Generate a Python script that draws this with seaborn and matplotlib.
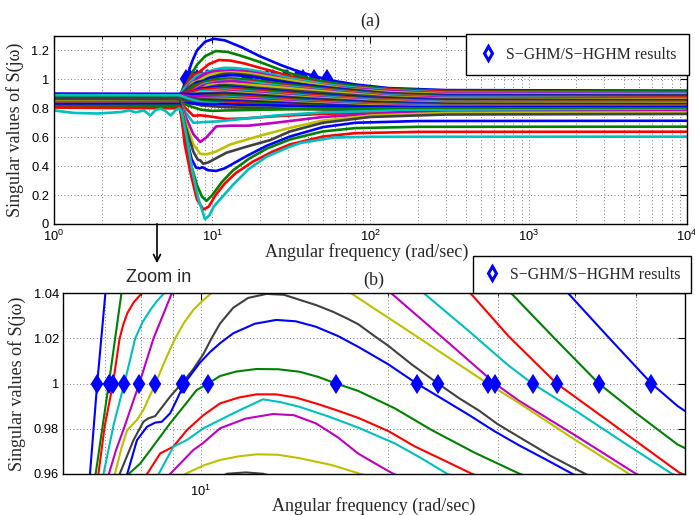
import matplotlib
matplotlib.use("Agg")
import matplotlib.pyplot as plt
from matplotlib.lines import Line2D
from matplotlib.patches import FancyArrowPatch
from matplotlib.ticker import LogLocator, NullFormatter, FormatStrFormatter, FixedLocator
import pandas as pd
import seaborn as sns

sns.set_style("white")
plt.rcParams["font.family"] = ["Liberation Sans", "DejaVu Sans"]
plt.rcParams["mathtext.default"] = "regular"
SERIF = ["Liberation Serif", "DejaVu Serif"]

# MATLAB default line colour order
line_colors = ["#0000FF", "#008000", "#FF0000", "#00BFBF", "#BF00BF", "#BFBF00", "#404040"]

# ---- singular value curves: (frequency rad/s, sigma) ordered by peak height ----
c01 = [(1, 0.875), (6.2, 0.878), (6.45, 0.92), (6.63, 0.96), (6.81, 1.0), (7.02, 1.04), (7.5, 1.13),
       (8.0, 1.2), (9.0, 1.26), (10.2, 1.281), (12, 1.27), (15.5, 1.22), (20, 1.16), (27, 1.10),
       (33, 1.065), (38.9, 1.04), (45, 1.021), (53, 1.0), (58.4, 0.99), (80, 0.965), (130, 0.94),
       (300, 0.926), (10000, 0.922)]
c02 = [(1, 0.89), (6.2, 0.885), (6.5, 0.93), (6.77, 0.96), (7.11, 1.0), (7.45, 1.04), (8, 1.1),
       (9, 1.16), (10.5, 1.196), (12.5, 1.19), (15, 1.165), (20, 1.12), (25, 1.08), (31.5, 1.04),
       (37, 1.02), (43.6, 1.0), (50, 0.987), (58.4, 0.973), (80, 0.955), (130, 0.935), (300, 0.92),
       (10000, 0.916)]
c03 = [(1, 0.86), (6.2, 0.862), (6.5, 0.91), (6.84, 0.96), (7.0, 0.981), (7.22, 1.0), (7.4, 1.02),
       (7.5, 1.026), (7.61, 1.031), (7.8, 1.036), (8.04, 1.04), (8.7, 1.07), (9.5, 1.105), (11, 1.134),
       (13, 1.13), (16, 1.11), (20, 1.08), (24, 1.057), (27.1, 1.04), (31.2, 1.021), (37.3, 1.0),
       (47, 0.98), (58.75, 0.9606), (80, 0.945), (130, 0.93), (300, 0.914), (10000, 0.91)]
c04 = [(1, 0.90), (6.2, 0.895), (6.6, 0.93), (6.97, 0.96), (7.24, 0.982), (7.53, 1.0), (7.84, 1.02),
       (8.05, 1.027), (8.29, 1.0325), (8.5, 1.0365), (8.73, 1.04), (9.5, 1.055), (10.5, 1.07), (12, 1.08),
       (14, 1.078), (17, 1.068), (20, 1.055), (22.8, 1.04), (27, 1.023), (31.2, 1.008), (34.1, 1.0),
       (40, 0.988), (48, 0.9736), (57, 0.9603), (80, 0.943), (130, 0.925), (300, 0.908), (10000, 0.905)]
c05 = [(1, 0.88), (6.2, 0.878), (6.7, 0.915), (7.11, 0.96), (7.3, 0.9705), (7.5, 0.9794), (7.96, 1.0),
       (8.17, 1.01), (8.39, 1.02), (8.68, 1.03), (8.98, 1.04), (10, 1.053), (11.5, 1.06), (13.5, 1.062),
       (16, 1.056), (20.2, 1.04), (25, 1.018), (29.7, 1.0), (32.4, 0.9925), (40, 0.977), (50.1, 0.96),
       (70, 0.94), (130, 0.92), (300, 0.903), (10000, 0.9)]
c06 = [(1, 0.85), (6.2, 0.852), (6.8, 0.9), (7.27, 0.96), (7.45, 0.9715), (7.61, 0.9794), (7.89, 0.9839),
       (8.08, 0.9883), (8.45, 1.0), (8.75, 1.01), (9.09, 1.02), (9.4, 1.027), (9.72, 1.0325),
       (10.05, 1.0365), (10.4, 1.04), (12, 1.047), (13.5, 1.048), (15.5, 1.045), (17.4, 1.04),
       (22, 1.0216), (28.9, 1.0), (32.4, 0.9915), (40, 0.975), (48.6, 0.9603), (70, 0.935),
       (130, 0.912), (300, 0.898), (10000, 0.895)]
c07 = [(1, 0.895), (6.2, 0.89), (6.9, 0.93), (7.4, 0.96), (7.79, 0.975), (8.08, 0.9831), (8.23, 0.9846),
       (8.44, 0.9856), (8.92, 0.9942), (9.31, 1.0), (9.7, 1.006), (10.09, 1.013), (10.4, 1.02),
       (10.73, 1.0265), (11.27, 1.0335), (11.9, 1.0378), (12.74, 1.0396), (13.6, 1.0392), (14.4, 1.037),
       (15.3, 1.0347), (16.3, 1.0317), (17.1, 1.029), (17.9, 1.0262), (19, 1.021), (20, 1.0167),
       (21.8, 1.0085), (24.04, 1.0), (26, 0.9935), (28, 0.988), (30, 0.982), (32.4, 0.9765),
       (36.5, 0.968), (41.3, 0.9603), (60, 0.94), (130, 0.905), (300, 0.893), (10000, 0.89)]
c08 = [(1, 0.865), (6.2, 0.868), (7.0, 0.92), (7.61, 0.96), (7.89, 0.975), (8.19, 0.9809), (8.44, 0.9827),
       (8.65, 0.9831), (8.92, 0.9868), (9.15, 0.993), (9.4, 1.0), (9.96, 1.0092), (10.35, 1.014),
       (10.73, 1.0178), (11.27, 1.0222), (12.2, 1.0264), (13.21, 1.0281), (14.2, 1.0275), (15.3, 1.0251),
       (16.6, 1.021), (17.9, 1.0162), (20, 1.0085), (22.22, 1.0), (24.5, 0.993), (27, 0.986),
       (29.6, 0.979), (32.4, 0.9728), (35.8, 0.9665), (39.4, 0.9603), (60, 0.935), (130, 0.9),
       (300, 0.888), (10000, 0.885)]
c09 = [(1, 0.885), (6.2, 0.882), (7.0, 0.92), (7.65, 0.96), (7.99, 0.9647), (8.29, 0.9706), (8.6, 0.9765),
       (8.92, 0.9824), (9.37, 0.9897), (9.84, 0.9971), (10.27, 1.0), (10.73, 1.0033), (11.4, 1.0053),
       (12.28, 1.0064), (13.3, 1.0063), (14.4, 1.0052), (15.4, 1.003), (16.49, 1.0), (17.9, 0.9967),
       (20.5, 0.989), (23.5, 0.9794), (27.5, 0.9695), (32.4, 0.9603), (60, 0.93), (130, 0.897),
       (300, 0.884), (10000, 0.88)]
c10 = [(1, 0.875), (6.2, 0.875), (7.0, 0.91), (8.19, 0.96), (8.6, 0.9691), (9.03, 0.9721), (9.49, 0.9794),
       (10.09, 0.986), (10.73, 0.9912), (11.5, 0.9938), (12.28, 0.9952), (13.21, 0.9952), (14.2, 0.9938),
       (15.3, 0.9912), (16.6, 0.988), (17.9, 0.9848), (20, 0.979), (22.1, 0.9721), (24.6, 0.966),
       (27.3, 0.96), (60, 0.925), (130, 0.893), (300, 0.88), (10000, 0.875)]
c11 = [(1, 0.855), (6.2, 0.858), (7.2, 0.91), (8.55, 0.96), (9.03, 0.9721), (9.49, 0.975), (10.09, 0.9802),
       (10.73, 0.9839), (11.6, 0.9885), (12.58, 0.993), (13.4, 0.9918), (14.4, 0.9897), (16, 0.9855),
       (17.9, 0.9805), (20.5, 0.9735), (22.6, 0.967), (24.9, 0.96), (60, 0.92), (130, 0.89),
       (300, 0.876), (10000, 0.87)]
c12 = [(1, 0.9), (6.2, 0.897), (7.5, 0.92), (8.92, 0.96), (9.72, 0.9706), (10.07, 0.9736), (10.73, 0.9802),
       (11.8, 0.9845), (13.05, 0.9865), (14.1, 0.986), (15.3, 0.9824), (16.6, 0.9762), (17.9, 0.969),
       (19.1, 0.9645), (20.4, 0.96), (60, 0.915), (130, 0.885), (300, 0.872), (10000, 0.865)]
c13 = [(1, 0.87), (6.2, 0.87), (7.5, 0.9), (9.43, 0.96), (10.1, 0.9638), (10.73, 0.9662), (11.5, 0.9678),
       (12.28, 0.9687), (13.3, 0.9685), (14.4, 0.967), (16.2, 0.964), (18.07, 0.96), (20, 0.957),
       (60, 0.91), (130, 0.88), (300, 0.866), (10000, 0.86)]
c14 = [(1, 0.845), (6.2, 0.85), (7.5, 0.9), (9.5, 0.946), (10.5, 0.956), (11, 0.9601), (11.8, 0.9607),
       (12.6, 0.9601), (14, 0.956), (20, 0.94), (60, 0.9), (130, 0.875), (300, 0.862), (10000, 0.855)]

# middle of the family, sampled on a common frequency grid
bundle_w = [1, 6.2, 7, 8.5, 12, 20, 40, 100, 300, 10000]
c15 = [0.880, 0.880, 0.905, 0.938, 0.952, 0.932, 0.902, 0.872, 0.855, 0.852]
c16 = [0.862, 0.862, 0.891, 0.928, 0.945, 0.926, 0.897, 0.867, 0.851, 0.848]
c17 = [0.895, 0.895, 0.910, 0.929, 0.938, 0.919, 0.892, 0.864, 0.848, 0.845]
c18 = [0.872, 0.872, 0.892, 0.918, 0.930, 0.912, 0.886, 0.860, 0.845, 0.842]
c19 = [0.850, 0.850, 0.875, 0.908, 0.922, 0.905, 0.880, 0.855, 0.841, 0.838]
c20 = [0.888, 0.888, 0.897, 0.910, 0.915, 0.899, 0.875, 0.851, 0.837, 0.835]
c21 = [0.868, 0.868, 0.882, 0.900, 0.908, 0.892, 0.869, 0.846, 0.832, 0.830]
c22 = [0.900, 0.900, 0.900, 0.900, 0.900, 0.885, 0.863, 0.841, 0.828, 0.826]
c23 = [0.855, 0.855, 0.868, 0.885, 0.893, 0.879, 0.858, 0.836, 0.824, 0.822]
c24 = [0.878, 0.878, 0.881, 0.884, 0.886, 0.872, 0.852, 0.832, 0.820, 0.818]
c25 = [0.846, 0.846, 0.858, 0.872, 0.879, 0.866, 0.847, 0.828, 0.817, 0.815]
c26 = [0.892, 0.892, 0.885, 0.876, 0.872, 0.860, 0.842, 0.823, 0.813, 0.811]
c27 = [0.865, 0.865, 0.865, 0.865, 0.865, 0.853, 0.836, 0.819, 0.809, 0.807]
c28 = [0.883, 0.883, 0.874, 0.863, 0.858, 0.847, 0.831, 0.814, 0.805, 0.803]
c29 = [0.852, 0.852, 0.852, 0.851, 0.851, 0.841, 0.826, 0.810, 0.802, 0.800]
c30 = [0.875, 0.875, 0.864, 0.850, 0.844, 0.835, 0.821, 0.806, 0.798, 0.797]
c31 = [0.858, 0.858, 0.851, 0.841, 0.837, 0.828, 0.816, 0.803, 0.795, 0.794]
c32 = [0.890, 0.890, 0.869, 0.842, 0.830, 0.822, 0.810, 0.798, 0.791, 0.790]
c33 = [0.860, 0.860, 0.847, 0.830, 0.822, 0.815, 0.804, 0.793, 0.787, 0.786]
c34 = [0.848, 0.848, 0.836, 0.822, 0.815, 0.809, 0.799, 0.789, 0.784, 0.783]
c35 = [0.870, 0.870, 0.848, 0.820, 0.808, 0.802, 0.794, 0.786, 0.781, 0.780]

# curves with a notch near the crossover
c36 = [(1, 0.84), (6.2, 0.84), (7, 0.835), (8.5, 0.83), (12, 0.828), (20, 0.822), (40, 0.815),
       (100, 0.81), (300, 0.808), (10000, 0.808)]
c37 = [(1, 0.845), (6.2, 0.845), (7, 0.82), (8.5, 0.79), (10, 0.782), (12, 0.785), (20, 0.79),
       (40, 0.795), (100, 0.8), (10000, 0.8)]
c38 = [(1, 0.842), (6.2, 0.842), (6.8, 0.8), (7.6, 0.748), (8.4, 0.752), (9.5, 0.745), (12.3, 0.726),
       (16, 0.73), (25, 0.745), (50, 0.762), (150, 0.772), (10000, 0.775)]
c39 = [(1, 0.85), (6.2, 0.85), (6.8, 0.77), (7.6, 0.70), (9, 0.705), (11, 0.71), (15, 0.725),
       (25, 0.75), (50, 0.772), (150, 0.785), (10000, 0.788)]
c40 = [(1, 0.855), (6.2, 0.855), (6.8, 0.74), (7.6, 0.62), (8.4, 0.567), (9.2, 0.6), (10.6, 0.675),
       (13, 0.68), (17, 0.68), (25, 0.70), (50, 0.74), (150, 0.772), (10000, 0.78)]
c41 = [(1, 0.86), (6.2, 0.86), (6.8, 0.70), (7.6, 0.55), (8.4, 0.485), (9.2, 0.482), (10.5, 0.50),
       (13, 0.55), (20, 0.61), (31, 0.665), (50, 0.715), (100, 0.75), (300, 0.768), (10000, 0.772)]
c42 = [(1, 0.865), (6.2, 0.862), (6.8, 0.67), (7.6, 0.50), (8.1, 0.445), (8.4, 0.44), (8.76, 0.417),
       (9.4, 0.425), (12.3, 0.493), (16.5, 0.535), (23.2, 0.58), (31, 0.64), (50, 0.70), (100, 0.74),
       (300, 0.757), (10000, 0.761)]
c43 = [(1, 0.828), (6.2, 0.83), (6.8, 0.62), (7.4, 0.45), (7.9, 0.39), (8.3, 0.385), (8.7, 0.392),
       (9.4, 0.372), (10.6, 0.367), (12, 0.385), (16.5, 0.47), (22, 0.54), (31, 0.605), (50, 0.67),
       (80, 0.70), (200, 0.712), (10000, 0.714)]
c44 = [(1, 0.815), (6.2, 0.818), (6.7, 0.6), (7.3, 0.42), (8, 0.27), (8.6, 0.19), (9.2, 0.16), (10, 0.2),
       (11.5, 0.29), (13.5, 0.37), (17, 0.45), (22, 0.52), (31, 0.585), (50, 0.64), (80, 0.663),
       (200, 0.672), (10000, 0.673)]
c45 = [(1, 0.805), (5.8, 0.80), (6.1, 0.812), (6.3, 0.805), (6.7, 0.55), (7.3, 0.35), (8.0, 0.17),
       (8.8, 0.10), (9.5, 0.12), (10.5, 0.2), (12, 0.28), (14, 0.35), (18, 0.43), (24, 0.50), (31, 0.55),
       (50, 0.605), (80, 0.628), (200, 0.637), (10000, 0.638)]
c46 = [(1, 0.785), (1.34, 0.768), (1.88, 0.764), (2.64, 0.774), (2.98, 0.786), (3.28, 0.772), (3.7, 0.786),
       (4.06, 0.75), (4.39, 0.788), (4.73, 0.797), (5.08, 0.78), (5.47, 0.75), (5.88, 0.788), (6.2, 0.8),
       (6.4, 0.78), (6.9, 0.6), (7.5, 0.36), (8.2, 0.17), (9.0, 0.033), (9.6, 0.06), (10.2, 0.12),
       (12.3, 0.22), (13.5, 0.27), (17, 0.38), (22, 0.465), (31, 0.535), (36, 0.56), (58, 0.598),
       (100, 0.603), (10000, 0.604)]

# frequencies where sigma = 1 (S-GHM/S-HGHM)
hit_w = [6.81, 7.11, 7.22, 7.53, 7.96, 8.45, 9.31, 9.40, 10.27,
         16.49, 22.22, 24.04, 28.89, 29.72, 34.15, 37.31, 43.65, 52.99]
hit_s = [1.0, 1.0, 1.0, 1.0, 1.0, 1.0, 1.0, 1.0, 1.0,
         1.0, 1.0, 1.0, 1.0, 1.0, 1.0, 1.0, 1.0, 1.0]

legend_label = "S\u2212GHM/S\u2212HGHM results"

# ---- assemble long-form table ----
paired = [c01, c02, c03, c04, c05, c06, c07, c08, c09, c10, c11, c12, c13, c14]
bundle = [c15, c16, c17, c18, c19, c20, c21, c22, c23, c24, c25, c26, c27, c28, c29, c30,
          c31, c32, c33, c34, c35]
notched = [c36, c37, c38, c39, c40, c41, c42, c43, c44, c45, c46]

rows = []
idx = 0
for pts in paired:
    rows += [(idx, w, s) for w, s in pts]
    idx += 1
for vals in bundle:
    rows += [(idx, w, s) for w, s in zip(bundle_w, vals)]
    idx += 1
for pts in notched:
    rows += [(idx, w, s) for w, s in pts]
    idx += 1
df = pd.DataFrame(rows, columns=["curve", "w", "s"])
palette = {i: line_colors[i % 7] for i in range(idx)}

W, H = 695, 515
fig = plt.figure(figsize=(W / 100, H / 100), dpi=100)
ax1 = fig.add_axes([54 / W, 1 - 224 / H, 633 / W, 188 / H])
ax2 = fig.add_axes([63 / W, 1 - 474 / H, 622 / W, 181 / H])

grid_kw = dict(linestyle=(0, (1, 3)), color="0.3", linewidth=0.6)
marker_kw = dict(linestyle="none", marker="d", ms=8, mew=1.6, mec="#0000FF", mfc="#0000FF")


def style_axes(ax):
    for sp in ax.spines.values():
        sp.set_color("black")
        sp.set_linewidth(1.0)
    ax.tick_params(which="both", direction="in", top=True, right=True, colors="black",
                   labelsize=9.3)
    ax.tick_params(which="major", length=5, width=0.8)
    ax.tick_params(which="minor", length=2.5, width=0.6)


# ---- (a) full range ----
ax1.set_xscale("log")
ax1.plot(hit_w, hit_s, zorder=1.5, **marker_kw)
sns.lineplot(data=df, x="w", y="s", hue="curve", palette=palette, estimator=None, sort=False,
             legend=False, linewidth=1.9, ax=ax1)
ax1.set_xlim(1, 1e4)
ax1.set_ylim(0, 1.3)
ax1.xaxis.set_major_locator(LogLocator(base=10, numticks=10))
ax1.xaxis.set_minor_locator(LogLocator(base=10, subs=range(2, 10), numticks=20))
ax1.xaxis.set_minor_formatter(NullFormatter())
ax1.yaxis.set_major_locator(FixedLocator([0, 0.2, 0.4, 0.6, 0.8, 1.0, 1.2]))
ax1.yaxis.set_major_formatter(FormatStrFormatter("%g"))
ax1.grid(True, which="both", axis="x", **grid_kw)
ax1.grid(True, which="major", axis="y", **grid_kw)
style_axes(ax1)
ax1.tick_params(axis="x", pad=3.5)
ax1.tick_params(axis="y", pad=3.5)
ax1.set_title("(a)", family=SERIF, fontsize=13, pad=7)
ax1.set_xlabel("Angular frequency (rad/sec)", family=SERIF, fontsize=13)
ax1.set_ylabel("Singular values of S(j\u03c9)", family=SERIF, fontsize=13)
ax1.xaxis.set_label_coords(0.4937, -0.150)
ax1.xaxis.label.set_va("center")
ax1.yaxis.set_label_coords(-0.0616, 0.5)
ax1.yaxis.label.set_va("center")

handle = Line2D([], [], linestyle="none", marker="d", ms=7, mew=2.2, mec="#0000FF", mfc="white")
leg_kw = dict(prop={"family": SERIF, "size": 11.4}, frameon=True, fancybox=False,
              edgecolor="black", framealpha=1, handlelength=1.1, handletextpad=0.6,
              borderaxespad=0, bbox_transform=fig.transFigure)
leg1 = ax1.legend([handle], [legend_label], loc="upper right", borderpad=0.8,
                  bbox_to_anchor=(689 / W, 1 - 34 / H), **leg_kw)
leg1.get_frame().set_linewidth(1.0)

# ---- (b) zoom around sigma = 1 ----
ax2.set_xscale("log")
sns.lineplot(data=df, x="w", y="s", hue="curve", palette=palette, estimator=None, sort=False,
             legend=False, linewidth=1.5, ax=ax2)
ax2.plot(hit_w, hit_s, zorder=3, **marker_kw)
ax2.set_xlim(6, 60)
ax2.set_ylim(0.96, 1.04)
ax2.xaxis.set_major_locator(LogLocator(base=10, numticks=10))
ax2.xaxis.set_minor_locator(LogLocator(base=10, subs=range(2, 10), numticks=20))
ax2.xaxis.set_minor_formatter(NullFormatter())
ax2.yaxis.set_major_locator(FixedLocator([0.96, 0.98, 1.0, 1.02, 1.04]))
ax2.yaxis.set_major_formatter(FormatStrFormatter("%g"))
ax2.grid(True, which="both", axis="x", **grid_kw)
ax2.grid(True, which="major", axis="y", **grid_kw)
style_axes(ax2)
ax2.tick_params(axis="x", pad=7)
ax2.tick_params(axis="y", pad=3)
ax2.set_title("(b)", family=SERIF, fontsize=13, pad=6)
ax2.set_xlabel("Angular frequency (rad/sec)", family=SERIF, fontsize=13)
ax2.set_ylabel("Singular values of S(j\u03c9)", family=SERIF, fontsize=13)
ax2.xaxis.set_label_coords(0.5, -0.1768)
ax2.xaxis.label.set_va("center")
ax2.yaxis.set_label_coords(-0.0732, 0.5)
ax2.yaxis.label.set_va("center")
leg2 = ax2.legend([handle], [legend_label], loc="lower right", borderpad=0.65,
                  bbox_to_anchor=(691 / W, 1 - 293 / H), **leg_kw)
leg2.get_frame().set_linewidth(1.0)

# pointer from (a) to (b)
fig.patches.append(FancyArrowPatch(
    (157 / W, 1 - 221 / H), (157 / W, 1 - 266 / H), transform=fig.transFigure,
    arrowstyle="->,head_length=5,head_width=2.5", color="black", lw=1.2))
fig.text(159 / W, 1 - 278 / H, "Zoom in", ha="center", va="center", fontsize=13)

fig.savefig("out.png", dpi=100)
